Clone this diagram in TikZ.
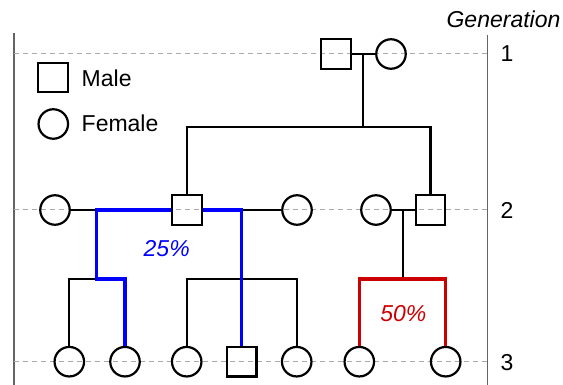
\documentclass[tikz,border=0pt]{standalone}
\usepackage{fontspec}
\setmainfont{Liberation Sans}
\definecolor{inherit}{RGB}{0,0,255}
\definecolor{inheritred}{RGB}{204,0,0}
\definecolor{gengray}{RGB}{170,170,170}
\definecolor{framegray}{RGB}{100,100,100}
\begin{document}
\begin{tikzpicture}[x=1pt,y=-1pt,
  font=\fontsize{23}{27}\selectfont,
  person/.style={draw=black, line width=2.2pt, inner sep=0pt, minimum size=29.5pt},
  male/.style={person, rectangle},
  female/.style={person, circle},
  kin/.style={line width=2.2pt, draw=black},
  blueline/.style={line width=3.4pt, draw=inherit},
  redline/.style={line width=3.4pt, draw=inheritred},
  genline/.style={line width=1pt, draw=gengray, dash pattern=on 5pt off 4pt},
  framerule/.style={line width=1.3pt, draw=framegray},
  label/.style={inner sep=0pt, anchor=base}]
\useasboundingbox (0,0) rectangle (563,385);

% frame and generation rules
\coordinate (fLt) at (14,33);   \coordinate (fLb) at (14,385);
\coordinate (fRt) at (487.5,35); \coordinate (fRb) at (487.5,385);
\draw[framerule] (fLt) -- (fLb);
\draw[framerule] (fRt) -- (fRb);
\foreach \n/\y in {1/54,2/210,3/361.7}{
  \coordinate (g\n L) at (14,\y);
  \coordinate (g\n R) at (487.5,\y);
  \draw[genline] (g\n L) -- (g\n R);
}

% headings and generation numbers
\node[label] (gen) at (503.5,27.3) {\itshape Generation};
\node[label] (n1) at (507,61.5) {1};
\node[label] (n2) at (507,218.2) {2};
\node[label] (n3) at (507,370) {3};

% legend
\node[male] (legM) at (53,77.5) {};
\node[label, anchor=base west] (legMt) at (81.5,86.2) {Male};
\node[female] (legF) at (53.3,124) {};
\node[label, anchor=base west] (legFt) at (81.5,131.2) {Female};

% generation 1
\node[male] (M1) at (336,54) {};
\node[female] (F1) at (391,54) {};

% generation 2
\node[female] (A) at (55,210) {};
\node[male] (B) at (187,210) {};
\node[female] (C) at (297,210) {};
\node[female] (D) at (376,210) {};
\node[male] (E) at (430.5,210) {};

% generation 3
\node[female] (c1) at (69.3,361.7) {};
\node[female] (c2) at (125,361.7) {};
\node[female] (c3) at (186.7,361.7) {};
\node[male] (c4) at (241.7,361.7) {};
\node[female] (c5) at (296.7,361.7) {};
\node[female] (c6) at (359.3,361.7) {};
\node[female] (c7) at (445.7,361.7) {};

% junction points
\coordinate (d1) at (363,54);   \coordinate (d1b) at (363,127);
\coordinate (j1) at (96.7,210); \coordinate (j2) at (96.7,279);
\coordinate (j3) at (241.7,210); \coordinate (j4) at (241.7,279);
\coordinate (d3) at (403,210);  \coordinate (d3b) at (403,279);

% first generation couple and their children
\draw[kin] (M1.east) -- (F1.west);
\draw[kin] (d1) -- (d1b);
\draw[kin] (B.north) |- (E.north |- d1b) -- (E.north);

% second generation couples
\draw[kin] (A.east) -- (B.west);
\draw[kin] (B.east) -- (C.west);
\draw[kin] (D.east) -- (E.west);

% sibships
\draw[kin] (j2) -| (c1.north);
\draw[kin] (c3.north) -- (c3.north |- j4) -- (c5.north |- j4) -- (c5.north);
\draw[kin] (d3) -- (d3b);

% shared-descent paths
\draw[blueline] (B.west) -- (j1) -- (j2) -| (c2.north);
\draw[blueline] (B.east) -- (j3) -- (c4.north);
\draw[redline] (c6.north) -- (c6.north |- d3b) -- (c7.north |- d3b) -- (c7.north);

\node[label, text=inherit] (p25) at (166.7,256.5) {\itshape 25\%};
\node[label, text=inheritred] (p50) at (403.3,321.5) {\itshape 50\%};
\end{tikzpicture}
\end{document}
